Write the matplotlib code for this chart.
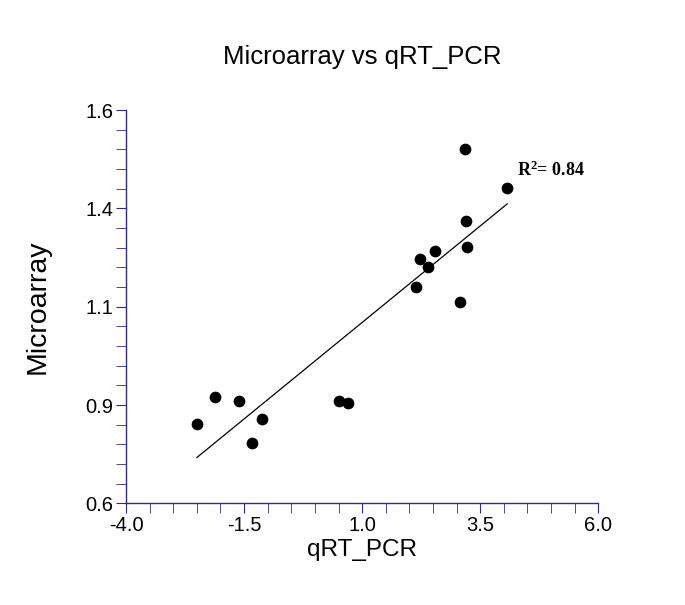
import matplotlib.pyplot as plt
import numpy as np
from matplotlib.ticker import MultipleLocator, FixedLocator

plt.rcParams['font.family'] = ['Liberation Sans', 'DejaVu Sans']
plt.rcParams['mathtext.fontset'] = 'custom'
plt.rcParams['mathtext.rm'] = 'Liberation Serif:bold'

qpcr = [-2.50, -2.11, -1.60, -1.33, -1.13, 0.52, 0.71, 2.13, 2.23, 2.39, 2.54, 3.07, 3.17, 3.19, 3.23, 4.07]
micro = [0.801, 0.871, 0.861, 0.754, 0.814, 0.860, 0.854, 1.151, 1.221, 1.201, 1.241, 1.113, 1.501, 1.319, 1.251, 1.401]
xticks = [-4.0, -1.5, 1.0, 3.5, 6.0]
yticks = [0.6, 0.85, 1.1, 1.35, 1.6]
ylabels = ['0.6', '0.9', '1.1', '1.4', '1.6']

axcol = '#2b2b8c'

fig = plt.figure(figsize=(6.85, 6.05), dpi=100)
ax = fig.add_axes([0.184, 0.168, 0.6894, 0.650])

ax.scatter(qpcr, micro, s=55, color='black', zorder=3)

# linear fit
k, b = np.polyfit(qpcr, micro, 1)
xs = np.array([min(qpcr), max(qpcr)])
ax.plot(xs, k * xs + b, color='black', lw=0.9)

ax.text(4.28, 1.447, r'$\mathrm{R^{2}}$= 0.84', fontsize=13, fontweight='bold',
        family='Liberation Serif', va='center', ha='left')

ax.set_xlim(-4, 6)
ax.set_ylim(0.6, 1.6)
ax.xaxis.set_major_locator(FixedLocator(xticks))
ax.set_xticklabels(['%.1f' % v for v in xticks])
ax.xaxis.set_minor_locator(MultipleLocator(0.5))
ax.yaxis.set_major_locator(FixedLocator(yticks))
ax.set_yticklabels(ylabels)
ax.yaxis.set_minor_locator(MultipleLocator(0.05))

for s in ['top', 'right']:
    ax.spines[s].set_visible(False)
for s in ['left', 'bottom']:
    ax.spines[s].set_color(axcol)
    ax.spines[s].set_linewidth(1.0)
ax.tick_params(which='both', direction='out', color=axcol, labelsize=14.5, labelcolor='black')
ax.tick_params(which='major', length=7, pad=2)
ax.tick_params(which='minor', length=7)

ax.set_xlabel('qRT_PCR', fontsize=17.5, labelpad=3)
ax.set_ylabel('Microarray', fontsize=20.5, labelpad=25)
ax.set_title('Microarray vs qRT_PCR', fontsize=18.5, pad=33)

plt.savefig('out.png', dpi=100)
